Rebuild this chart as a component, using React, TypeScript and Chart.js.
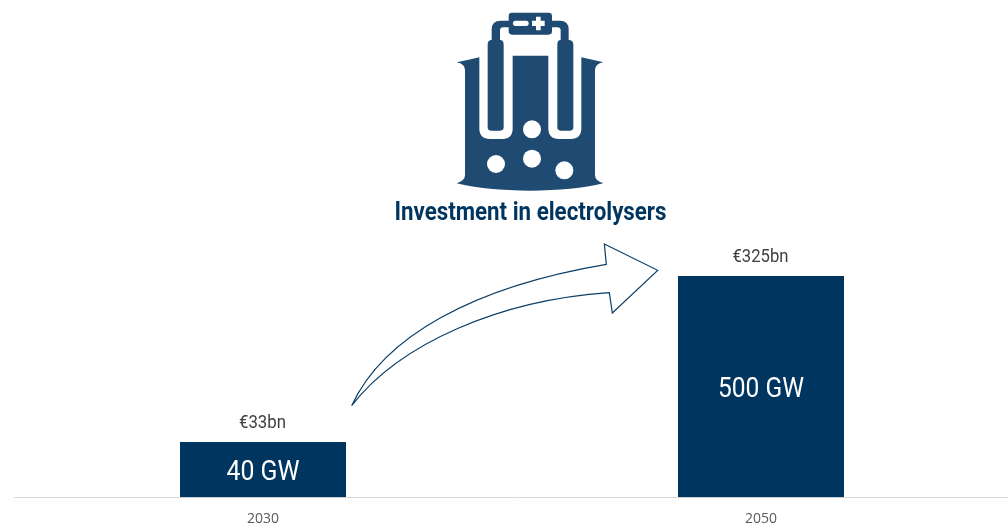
import React, { useEffect, useRef } from "react";
import { Chart, registerables } from "chart.js";

Chart.register(...registerables);

const categories = ["2030", "2050"];
const capacityGW = [40, 500];
const capacityLabels = ["40 GW", "500 GW"];
const investmentLabels = ["€33bn", "€325bn"];
const titleText = "Investment in electrolysers";

const NAVY = "#00355f";
const ICON = "#1f4a72";

// Draws text squeezed to a given width, standing in for Roboto Condensed.
function label(ctx: CanvasRenderingContext2D, text: string, x: number, y: number, font: string, color: string, width: number) {
  ctx.font = font;
  ctx.fillStyle = color;
  ctx.textAlign = "center";
  ctx.textBaseline = "middle";
  ctx.fillText(text, x, y, width);
}

const decorations = {
  id: "decorations",
  afterDatasetsDraw(chart: any) {
    const ctx: CanvasRenderingContext2D = chart.ctx;
    const bars = chart.getDatasetMeta(0).data;

    ctx.save();
    const innerWidths = [73, 86];
    const outerWidths = [47, 56];
    bars.forEach((bar: any, i: number) => {
      label(ctx, capacityLabels[i], bar.x, (bar.y + bar.base) / 2 + 3.5, "400 28px Roboto", "#ffffff", innerWidths[i]);
      label(ctx, investmentLabels[i], bar.x - 0.5, bar.y - 18.5, "400 18px Roboto", "#404040", outerWidths[i]);
    });
    label(ctx, titleText, 530.5, 213.5, "700 25px Roboto", NAVY, 272);

    // Arrow
    const arrow = new Path2D(
      "M35 527 C130 320 400 170 799 103 L793 42 L953 121 L817 249 L808 188 C480 210 180 340 35 527 Z"
    );
    ctx.save();
    ctx.translate(340, 230);
    ctx.scale(1 / 3, 1 / 3);
    ctx.strokeStyle = "#0b3f68";
    ctx.lineWidth = 3.6;
    ctx.lineJoin = "miter";
    ctx.miterLimit = 3;
    ctx.stroke(arrow);
    ctx.restore();

    // Electrolyser icon
    ctx.save();
    ctx.translate(440, 0);
    ctx.scale(1 / 3, 1 / 3);
    ctx.fillStyle = ICON;
    const vessel = new Path2D(
      "M50 187 Q85 180 118 172 L118 385 Q118 417 150 417 L187 417 Q218 417 218 385 L218 167 L325 167 L325 385 Q325 417 357 417 L392 417 Q424 417 424 385 L424 172 Q460 180 490 187 Q465 192 465 210 L465 525 Q465 542 490 550 Q400 572 270 572 Q140 572 50 550 Q75 542 75 525 L75 210 Q75 192 50 187 Z"
    );
    ctx.fill(vessel);
    const parts = new Path2D(
      "M155 120 L155 88 Q155 62 182 62 L206 62 L206 48 Q206 38 216 38 L326 38 Q336 38 336 48 L336 62 L360 62 Q386 62 386 88 L386 120 Q400 120 400 134 L400 382 Q400 392 390 392 L362 392 Q352 392 352 382 L352 134 Q352 120 362 120 L362 92 Q362 82 352 82 L336 82 L336 94 Q336 104 326 104 L216 104 Q206 104 206 94 L206 82 L190 82 Q180 82 180 92 L180 120 Q191 120 191 134 L191 382 Q191 392 181 392 L153 392 Q143 392 143 382 L143 134 Q143 120 155 120 Z"
    );
    ctx.fill(parts);
    ctx.fillStyle = "#ffffff";
    ctx.fill(new Path2D("M226 62 L259 62 Q266 62 266 70 Q266 78 259 78 L226 78 Q219 78 219 70 Q219 62 226 62 Z"));
    ctx.fill(new Path2D("M288 50 L302 50 L302 62 L314 62 L314 78 L302 78 L302 91 L288 91 L288 78 L276 78 L276 62 L288 62 Z"));
    const bubbles: [number, number][] = [[276, 388], [168, 492], [276, 476], [373, 511]];
    bubbles.forEach(([x, y]) => {
      ctx.beginPath();
      ctx.arc(x, y, 27, 0, Math.PI * 2);
      ctx.fill();
    });
    ctx.restore();
    ctx.restore();
  },
};

export default function App() {
  const ref = useRef<HTMLCanvasElement>(null);

  useEffect(() => {
    document.body.style.margin = "0";
    const chart = new Chart(ref.current!, {
      type: "bar",
      data: {
        labels: categories,
        datasets: [
          {
            data: capacityGW,
            backgroundColor: NAVY,
            categoryPercentage: 1,
            barPercentage: 1 / 3,
          },
        ],
      },
      options: {
        responsive: false,
        animation: false,
        layout: { padding: { left: 14, right: 0, top: 276, bottom: 0 } },
        plugins: { legend: { display: false }, tooltip: { enabled: false } },
        scales: {
          x: {
            grid: { display: false, drawTicks: false },
            border: { color: "#d9d9d9", width: 1 },
            ticks: {
              color: "#595959",
              padding: 13,
              maxRotation: 0,
              font: { family: "'Open Sans'", size: 14 },
            },
          },
          y: {
            type: "logarithmic",
            display: false,
            min: 17.3,
            max: 500,
          },
        },
      },
      plugins: [decorations],
    });
    return () => chart.destroy();
  }, []);

  return (
    <div style={{ width: 1008, height: 525, overflow: "hidden", position: "relative" }}>
      <canvas ref={ref} width={1010} height={540} style={{ display: "block" }} />
    </div>
  );
}
